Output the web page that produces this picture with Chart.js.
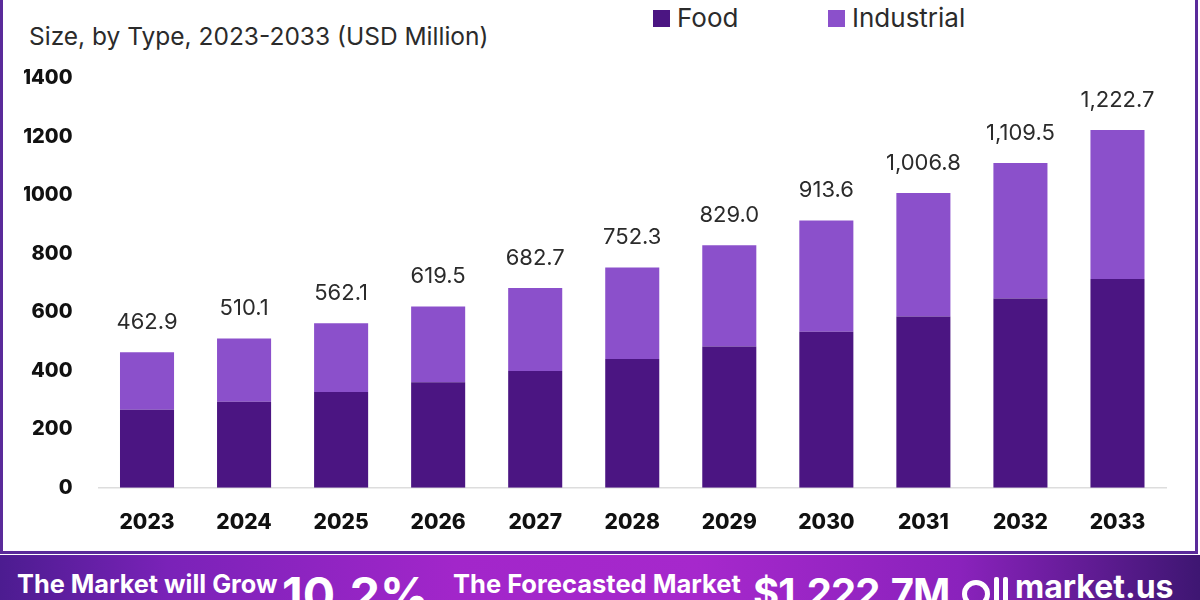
<!DOCTYPE html>
<html>
<head>
<meta charset="utf-8">
<script src="https://cdn.jsdelivr.net/npm/chart.js@4.4.1/dist/chart.umd.min.js"></script>
<style>
  html, body { margin: 0; padding: 0; width: 1200px; height: 600px; overflow: hidden; background: #fff; font-family: Inter, "Noto Sans", sans-serif; }
  #card { position: absolute; left: 0; top: -4px; width: 1192px; height: 555px; border: 3px solid #5a2a9a; border-top: none; background: #fff; }
  #wrap { position: absolute; left: 0; top: 0; width: 1200px; height: 600px; }
  #sub { position: absolute; left: 29px; top: 24px; font-size: 24.5px; line-height: 1; color: #2b2b2b; white-space: nowrap; }
  .leg { position: absolute; top: 5px; font-size: 26px; line-height: 1; color: #2b2b2b; white-space: nowrap; }
  .sw { position: absolute; width: 17px; height: 17px; top: 10px; }
  #banner { position: absolute; left: 0; top: 555px; width: 1200px; height: 45px; overflow: hidden;
    background: linear-gradient(90deg, #4c1c90 0%, #7a22b8 14%, #a226ca 38%, #a628cc 58%, #8a22bc 80%, #3e1672 100%); color: #fff; }
  .bt { position: absolute; font-weight: 700; white-space: nowrap; color: #fff; line-height: 1; }
  #ring { position: absolute; left: 962px; top: 25px; width: 18px; height: 18px; border: 5px solid #fff; border-radius: 50%; }
  .bar { position: absolute; width: 5px; background: #fff; border-radius: 2px; }
</style>
</head>
<body>
<div id="card"></div>
<div id="sub">Size, by Type, 2023-2033 (USD Million)</div>
<div class="sw" style="left:653px; background:#4b1582"></div>
<div class="leg" style="left:677px;">Food</div>
<div class="sw" style="left:828px; background:#8b50cb"></div>
<div class="leg" style="left:852px;">Industrial</div>
<div id="wrap"><canvas id="c" width="1200" height="600"></canvas></div>
<div id="banner">
  <div class="bt" style="left:17px; top:16px; font-size:25.3px;">The Market will Grow</div>
  <div class="bt" style="left:282px; top:16px; font-size:48px;">10.2%</div>
  <div class="bt" style="left:453px; top:16px; font-size:25.5px;">The Forecasted Market</div>
  <div class="bt" style="left:753px; top:18px; font-size:40px; letter-spacing:-1px;">$1,222.7M</div>
  <div id="ring"></div>
  <div class="bar" style="left:994px; top:22px; height:30px;"></div>
  <div class="bar" style="left:1003px; top:22px; height:30px;"></div>
  <div class="bt" style="left:1015px; top:16px; font-size:32px;">market.us</div>
</div>
<script>
const categories = ["2023","2024","2025","2026","2027","2028","2029","2030","2031","2032","2033"];
const foodValues = [267, 294, 327, 361, 399, 440, 483, 533, 585, 647, 713];
const industrialValues = [195.9, 216.1, 235.1, 258.5, 283.7, 312.3, 346.0, 380.6, 421.8, 462.5, 509.7];
const totalLabels = ["462.9","510.1","562.1","619.5","682.7","752.3","829.0","913.6","1,006.8","1,109.5","1,222.7"];
const yTicks = [0, 200, 400, 600, 800, 1000, 1200, 1400];

const totalsPlugin = {
  id: 'totals',
  afterDatasetsDraw(chart) {
    const ctx = chart.ctx;
    const meta = chart.getDatasetMeta(1);
    ctx.save();
    ctx.font = '400 22px Inter, "Noto Sans", sans-serif';
    ctx.fillStyle = '#2b2b2b';
    ctx.textAlign = 'center';
    ctx.textBaseline = 'middle';
    meta.data.forEach((bar, i) => {
      ctx.fillText(totalLabels[i], bar.x, bar.y - 30);
    });
    ctx.restore();
  }
};

new Chart(document.getElementById('c'), {
  type: 'bar',
  data: {
    labels: categories,
    datasets: [
      { label: 'Food', data: foodValues, backgroundColor: '#4b1582', barPercentage: 0.557, categoryPercentage: 1.0 },
      { label: 'Industrial', data: industrialValues, backgroundColor: '#8b50cb', barPercentage: 0.557, categoryPercentage: 1.0 }
    ]
  },
  options: {
    responsive: false,
    animation: false,
    events: [],
    layout: { padding: { left: 24, right: 34, top: 78, bottom: 43 } },
    plugins: { legend: { display: false }, tooltip: { enabled: false } },
    scales: {
      x: {
        stacked: true,
        grid: { display: false, drawTicks: false },
        border: { display: true, color: '#dddddd', width: 1.5 },
        ticks: { color: '#111', font: { family: 'Inter', size: 21, weight: '800' }, padding: 22, maxRotation: 0 }
      },
      y: {
        stacked: true,
        min: 0, max: 1400,
        afterBuildTicks(scale) { scale.ticks = yTicks.map(v => ({ value: v })); },
        afterFit(scale) { scale.width = 74.5; },
        grid: { display: false, drawTicks: false },
        border: { display: false },
        ticks: { color: '#111', font: { family: 'Inter', size: 20, weight: '800' }, padding: 26, callback: v => String(v) }
      }
    }
  },
  plugins: [totalsPlugin]
});
</script>
</body>
</html>
